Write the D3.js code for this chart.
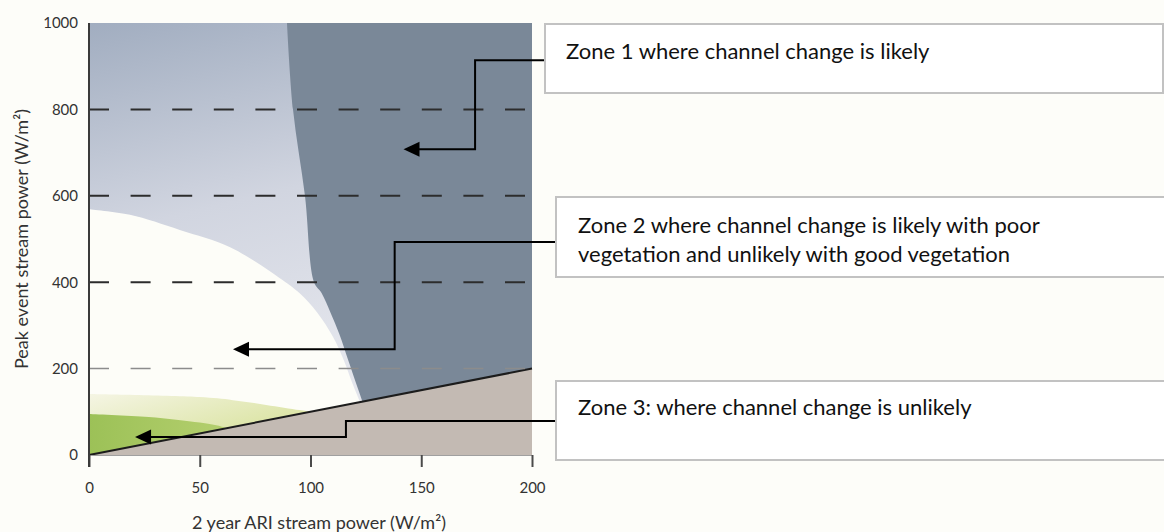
<!DOCTYPE html>
<html>
<head>
<meta charset="utf-8">
<script src="https://cdn.jsdelivr.net/npm/d3@7"></script>
<style>
  body { margin: 0; background: #fdfdf9; }
  svg { display: block; }
</style>
</head>
<body>
<div class="chart"></div>
<script>
const xTicks = [0, 50, 100, 150, 200];
const yTicks = [0, 200, 400, 600, 800, 1000];
const dashLevels = [200, 400, 600, 800];

// boundary lines (x = 2yr ARI, y = peak event)
const thresholdLine = [[0, 0], [200, 200]];
const zone1Edge = [[89.4, 1000], [92.1, 800], [97.5, 600], [101.6, 400], [105, 375], [109, 330], [113, 280], [117, 220], [121, 160], [124, 115], [126, 80]];
const whiteEdge = [[0, 569], [18.5, 556], [41, 521], [63.7, 481], [86, 410], [95, 375], [103, 330], [110, 275], [115, 220], [119, 165], [123, 115]];
const lightGreenEdge = [[0, 141], [50, 134], [65, 127], [80, 116], [95, 104], [100, 100]];
const darkGreenEdge = [[0, 95], [27, 88], [50, 75], [58, 68], [62, 62]];

const zoneText = [
  ['Zone 1 where channel change is likely'],
  ['Zone 2 where channel change is likely with poor', 'vegetation and unlikely with good vegetation'],
  ['Zone 3: where channel change is unlikely']
];
// arrow tip and elbow, in chart units
const arrowTips = [[142, 708], [65, 245], [20.8, 41.7]];
const elbowX = [174.3, 138, 116];
const elbowY = [914, 493, 78.7];

const width = 1164;
const height = 532;

const svg = d3.select('.chart')
  .append('svg')
  .attr('width', width)
  .attr('height', height);

const x = d3.scaleLinear().domain([0, 200]).range([89, 532]);
const y = d3.scaleLinear().domain([0, 1000]).range([455, 23]);

const defs = svg.append('defs');

const grad = defs.append('linearGradient')
  .attr('id', 'sky')
  .attr('gradientUnits', 'userSpaceOnUse')
  .attr('x1', x(0)).attr('y1', y(1000))
  .attr('x2', x(40)).attr('y2', y(150));
grad.append('stop').attr('offset', 0).attr('stop-color', '#a1adc0');
grad.append('stop').attr('offset', 0.55).attr('stop-color', '#d1d5e0');
grad.append('stop').attr('offset', 1).attr('stop-color', '#e3e5ec');

const lg = defs.append('linearGradient')
  .attr('id', 'lightgreen')
  .attr('x1', 0).attr('y1', 0).attr('x2', 1).attr('y2', 1);
lg.append('stop').attr('offset', 0).attr('stop-color', '#f5f5e4');
lg.append('stop').attr('offset', 1).attr('stop-color', '#cfdc86');

const dg = defs.append('linearGradient')
  .attr('id', 'darkgreen')
  .attr('x1', 0).attr('y1', 0).attr('x2', 1).attr('y2', 0);
dg.append('stop').attr('offset', 0).attr('stop-color', '#9cc157');
dg.append('stop').attr('offset', 1).attr('stop-color', '#b4cf6e');

const line = d3.line().x(d => x(d[0])).y(d => y(d[1]));
const smooth = d3.line().x(d => x(d[0])).y(d => y(d[1])).curve(d3.curveCatmullRom);

const pt = d => `L${x(d[0])},${y(d[1])}`;

// background gradient of the upper left
svg.append('rect')
  .attr('x', x(0)).attr('y', y(1000))
  .attr('width', x(200) - x(0)).attr('height', y(0) - y(1000))
  .attr('fill', 'url(#sky)');

// white zone 2 area
svg.append('path')
  .attr('d', smooth(whiteEdge) + pt([123, 0]) + pt([0, 0]) + 'Z')
  .attr('fill', '#fdfdf8');

// zone 1
svg.append('path')
  .attr('d', smooth(zone1Edge) + pt([126, 0]) + pt([200, 0]) + pt([200, 1000]) + 'Z')
  .attr('fill', '#7a8898');

// vegetation bands
svg.append('path')
  .attr('d', smooth(lightGreenEdge) + pt([0, 0]) + 'Z')
  .attr('fill', 'url(#lightgreen)');

svg.append('path')
  .attr('d', smooth(darkGreenEdge) + pt([0, 0]) + 'Z')
  .attr('fill', 'url(#darkgreen)');

// zone 3 below the threshold
svg.append('path')
  .attr('d', line(thresholdLine) + pt([200, 0]) + 'Z')
  .attr('fill', '#c3bab3');

svg.append('path')
  .attr('d', line(thresholdLine))
  .attr('stroke', '#1c1c1c')
  .attr('stroke-width', 2)
  .attr('fill', 'none');

// dashed levels
svg.selectAll('.dash')
  .data(dashLevels)
  .enter().append('line')
  .attr('class', 'dash')
  .attr('x1', x(0)).attr('x2', x(200))
  .attr('y1', d => y(d)).attr('y2', d => y(d))
  .attr('stroke', d => d === 200 ? '#8c8c8c' : '#2c2c2c')
  .attr('stroke-width', d => d === 200 ? 1.5 : 2)
  .attr('stroke-dasharray', '20,21.6');

// axes
const xAxis = svg.append('g')
  .attr('transform', `translate(0,${y(0)})`)
  .call(d3.axisBottom(x).tickValues(xTicks).tickSize(12).tickPadding(15));
xAxis.select('.domain').attr('stroke', '#a0a0a0').attr('stroke-width', 1);
xAxis.selectAll('.tick line').attr('stroke', '#4a4a4a').attr('stroke-width', 2);

const yAxis = svg.append('g')
  .attr('transform', `translate(${x(0)},0)`)
  .call(d3.axisLeft(y).tickValues(yTicks).tickFormat(d3.format('d')).tickSize(0).tickPadding(11));
yAxis.select('.domain').remove();

svg.append('line')
  .attr('x1', x(0)).attr('x2', x(0))
  .attr('y1', y(1000)).attr('y2', y(0) + 12)
  .attr('stroke', '#3a3a3a')
  .attr('stroke-width', 2);

svg.selectAll('.tick text')
  .attr('font-family', 'Lato')
  .attr('font-size', '15px')
  .attr('fill', '#333');

svg.append('text')
  .attr('x', 319)
  .attr('y', 529)
  .attr('text-anchor', 'middle')
  .attr('font-family', 'Lato')
  .attr('font-size', '18px')
  .attr('fill', '#333')
  .text('2 year ARI stream power (W/m²)');

svg.append('text')
  .attr('transform', 'translate(28,239) rotate(-90)')
  .attr('text-anchor', 'middle')
  .attr('font-family', 'Lato')
  .attr('font-size', '18px')
  .attr('fill', '#333')
  .text('Peak event stream power (W/m²)');

// annotation boxes
const boxes = [
  { x: 545, y: 24, h: 69, tx: 566, ty: [59] },
  { x: 556, y: 197, h: 80, tx: 578, ty: [233, 262] },
  { x: 556, y: 381, h: 79, tx: 578, ty: [415] }
];

boxes.forEach((b, i) => {
  const tip = arrowTips[i];
  svg.append('path')
    .attr('d', `M${b.x},${y(elbowY[i])}H${x(elbowX[i])}V${y(tip[1])}H${x(tip[0]) + 14}`)
    .attr('stroke', '#000')
    .attr('stroke-width', 2)
    .attr('fill', 'none');
  svg.append('path')
    .attr('d', `M${x(tip[0])},${y(tip[1])}l16,-7.5v15z`)
    .attr('fill', '#000');

  svg.append('rect')
    .attr('x', b.x).attr('y', b.y)
    .attr('width', (i === 0 ? 1163 : 1180) - b.x).attr('height', b.h)
    .attr('fill', '#fff')
    .attr('stroke', '#c2c2c2')
    .attr('stroke-width', 2);

  zoneText[i].forEach((t, j) => {
    svg.append('text')
      .attr('x', b.tx)
      .attr('y', b.ty[j])
      .attr('font-family', 'Lato')
      .attr('font-size', '22px')
      .attr('fill', '#111')
      .text(t);
  });
});
</script>
</body>
</html>
